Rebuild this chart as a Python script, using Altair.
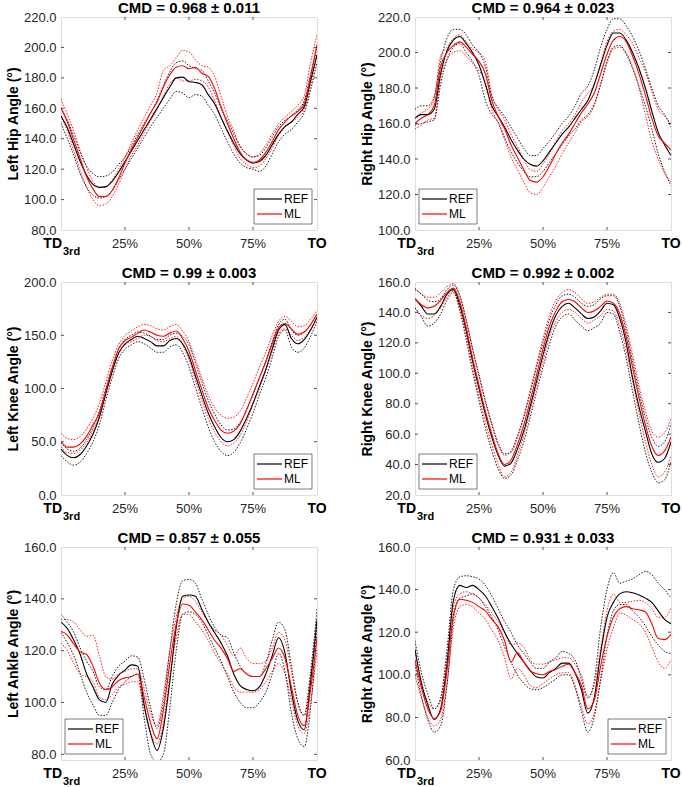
import altair as alt
import pandas as pd

FONT = "Liberation Sans"
AXIS_COLOR = "#262626"

# Gait cycle position (% from third touchdown to toe-off)
x_pct = [i * 2.5 for i in range(41)]
x_ticks = [0, 25, 50, 75, 100]
x_tick_labels = ["TD", "25%", "50%", "75%", "TO"]
x_sub_label = "3rd"

series_names = ["REF", "ML"]
series_colors = ["#000000", "#ff0000"]

# ---------------- Left hip ----------------
left_hip_ref = [155, 147, 136, 125, 116, 110, 108, 108.5, 112, 118, 125, 132, 139, 146, 153, 160, 167, 174, 180, 180.5, 177.5, 177, 175.5, 169, 163, 154, 145, 137, 130, 126, 124, 125, 129, 136, 143, 148, 151, 156, 161, 178, 195]
left_hip_ml = [160, 151, 139, 127, 115, 107, 102, 102, 106, 114, 124, 133, 141, 149, 157, 164, 174, 182, 187, 188, 186, 187, 183, 181, 173, 161, 150, 140, 131, 126, 124.5, 126, 131, 138, 146, 151, 155, 158, 163, 181, 202]
left_hip_ref_hi = [160, 152, 142, 131, 122, 117, 115, 115.5, 118, 123, 128, 135, 143, 150, 157, 165, 175, 184, 190, 191, 188, 186, 185, 178, 170, 160, 152, 143, 135, 130, 128, 129, 134, 141, 148, 152, 155, 159, 165, 182, 200]
left_hip_ref_lo = [150, 140, 129, 117, 108, 103, 101, 102, 106, 113, 120, 127, 134, 141, 148, 154, 160, 166, 171, 170, 167, 169, 168, 162, 156, 147, 138, 130, 124, 121, 120, 118.5, 122, 130, 138, 143, 146, 151, 157, 172, 190]
left_hip_ml_hi = [166, 156, 145, 132, 121, 112, 108, 108, 113, 120, 128, 137, 146, 154, 162, 170, 185, 188, 193, 198, 197, 192, 188, 187, 181, 168, 155, 145, 135, 130, 128, 130, 136, 143, 150, 154, 158, 162, 168, 190, 208]
left_hip_ml_lo = [155, 145, 132, 119, 108, 100, 96, 97, 102, 110, 120, 129, 136, 144, 152, 159, 168, 176, 180, 178, 178, 179, 178, 174, 165, 154, 145, 135, 127, 123, 121, 122, 127, 134, 142, 148, 151, 154, 159, 175, 196]
left_hip_yticks = [80, 100, 120, 140, 160, 180, 200, 220]

# ---------------- Right hip ----------------
right_hip_ref = [163, 165, 165, 168, 188, 201, 207, 209, 205, 200, 193, 182, 170, 164, 158, 151, 145, 140, 137, 136, 139, 144, 149, 154, 158, 163, 168, 173, 182, 193, 204, 211, 211, 207, 200, 191, 180, 167, 155, 148, 142]
right_hip_ml = [160, 163, 165, 170, 192, 200, 204, 206, 203, 199, 195, 188, 173, 164, 157, 148, 141, 134, 128, 127, 130, 136, 143, 149, 154, 160, 166, 171, 177, 188, 199, 207, 209, 206, 198, 188, 176, 163, 153, 149, 145]
right_hip_ref_hi = [168, 170, 170, 175, 195, 208, 213, 213, 210, 204, 200, 192, 175, 169, 164, 158, 152, 146, 142, 142, 146, 150, 155, 160, 164, 170, 177, 181, 190, 203, 213, 219, 219, 215, 209, 201, 191, 180, 170, 165, 158]
right_hip_ref_lo = [159, 160, 161, 162, 182, 196, 203, 205, 200, 195, 187, 173, 165, 161, 152, 144, 138, 133, 130, 130, 133, 138, 143, 148, 153, 157, 162, 165, 171, 182, 195, 203, 204, 199, 191, 181, 170, 157, 143, 133, 125]
right_hip_ml_hi = [163, 166, 168, 174, 198, 203, 208, 210, 206, 202, 200, 195, 176, 168, 162, 154, 147, 140, 134, 133, 137, 143, 150, 156, 160, 165, 172, 177, 182, 194, 206, 212, 213, 210, 205, 197, 189, 178, 168, 164, 160]
right_hip_ml_lo = [157, 159, 162, 163, 186, 196, 200, 201, 198, 194, 190, 183, 168, 160, 151, 141, 134, 127, 121, 120, 124, 130, 136, 143, 149, 155, 161, 164, 170, 182, 194, 202, 203, 200, 192, 180, 165, 150, 140, 132, 127]
right_hip_yticks = [100, 120, 140, 160, 180, 200, 220]

# ---------------- Left knee ----------------
left_knee_ref = [43, 37, 35, 38, 46, 57, 73, 95, 116, 133, 142, 146, 149, 147, 144, 140, 140, 145, 147, 142, 130, 112, 94, 77, 64, 54, 50, 52, 60, 72, 86, 102, 118, 137, 155, 160, 147, 142, 146, 155, 167]
left_knee_ml = [50, 45, 45, 48, 55, 66, 77, 98, 119, 137, 145, 148, 152, 155, 153, 150, 149, 152, 154, 147, 135, 117, 99, 82, 70, 61, 58, 60, 67, 80, 95, 110, 125, 142, 157, 161, 156, 151, 153, 160, 170]
left_knee_ref_hi = [49, 43, 41, 44, 52, 63, 79, 100, 120, 137, 146, 150, 153, 152, 149, 146, 146, 150, 152, 149, 141, 124, 106, 89, 76, 66, 61, 62, 68, 80, 94, 110, 126, 144, 160, 165, 155, 150, 153, 160, 170]
left_knee_ref_lo = [37, 31, 28, 31, 39, 50, 66, 89, 110, 128, 137, 141, 144, 142, 138, 134, 134, 139, 141, 134, 120, 101, 82, 64, 50, 41, 37, 40, 49, 62, 77, 94, 110, 129, 149, 155, 139, 134, 138, 149, 163]
left_knee_ml_hi = [58, 53, 52, 55, 62, 72, 86, 106, 126, 141, 150, 154, 158, 160, 159, 156, 155, 158, 160, 154, 144, 128, 110, 94, 82, 75, 72, 73, 79, 91, 105, 120, 134, 150, 163, 168, 163, 158, 159, 165, 173]
left_knee_ml_lo = [45, 40, 39, 42, 49, 60, 74, 96, 117, 133, 141, 144, 147, 150, 149, 145, 144, 147, 149, 141, 127, 108, 89, 72, 59, 50, 46, 49, 56, 69, 85, 100, 117, 135, 152, 156, 150, 145, 148, 155, 167]
left_knee_yticks = [0, 50, 100, 150, 200]

# ---------------- Right knee ----------------
right_knee_ref = [149, 144, 139, 139, 144, 152, 155, 145, 128, 108, 90, 73, 58, 46, 39, 41, 50, 62, 78, 95, 112, 127, 138, 144, 146, 143, 139, 136, 137, 141, 146, 145, 136, 120, 97, 78, 62, 47, 41.5, 44, 55]
right_knee_ml = [149, 145, 143, 144, 148, 153, 156, 147, 130, 110, 92, 75, 60, 47, 40, 43, 53, 66, 82, 99, 116, 131, 141, 147, 148.5, 147, 143, 140, 141, 144, 147.5, 146, 139, 124, 104, 84, 66, 52, 46, 49, 58]
right_knee_ref_hi = [155, 152, 148, 147, 149, 155, 158, 151, 135, 116, 99, 82, 67, 54, 47, 48, 58, 71, 87, 104, 120, 135, 145, 151, 152, 150, 146, 144, 145, 149, 151, 151, 144, 128, 108, 88, 71, 58, 52, 55, 67]
right_knee_ref_lo = [143, 137, 131, 133, 139, 148, 153, 141, 122, 101, 82, 64, 49, 37, 31, 33, 43, 55, 71, 88, 104, 119, 131, 137, 139, 135, 131, 128, 130, 133, 140, 139, 127, 110, 88, 67, 48, 35, 28, 30, 42]
right_knee_ml_hi = [156, 152, 150, 150, 153, 157, 159, 151, 135, 116, 98, 81, 66, 53, 46, 49, 59, 72, 89, 106, 123, 138, 148, 153, 155, 153, 149, 146, 147, 150, 152, 152, 146, 131, 112, 92, 75, 62, 58, 61, 70]
right_knee_ml_lo = [143, 138, 136, 138, 143, 150, 154, 143, 125, 104, 85, 68, 53, 40, 32, 35, 46, 59, 75, 92, 108, 124, 134, 140, 142, 140, 136, 133, 135, 138, 142, 141, 131, 115, 95, 74, 55, 40, 32, 35, 46]
right_knee_yticks = [20, 40, 60, 80, 100, 120, 140, 160]

# ---------------- Left ankle ----------------
left_ankle_ref = [131, 128.5, 124, 118.5, 111, 106, 101, 100, 107, 110.5, 112.5, 114.5, 114, 99, 88, 81.5, 90, 108, 129, 141, 141.5, 141, 136, 131, 127, 123, 118, 111, 106.5, 105, 104.5, 106, 111, 118, 125, 119, 104, 93, 89.5, 108, 132]
left_ankle_ml = [127.5, 126, 122.5, 119.5, 118.5, 114, 107.5, 105, 106, 108.5, 109.5, 110, 111, 102, 92, 86, 97, 115, 130, 138, 137.5, 135, 132, 128, 124, 121, 117, 112, 113, 111, 110, 110, 113, 117, 121, 117, 106, 95, 91, 105, 125]
left_ankle_ref_hi = [134, 131, 127, 121, 116, 112, 106, 105, 110, 114, 116, 118, 117.5, 109, 98, 90, 100, 120, 138, 147, 147.5, 146, 140, 134, 129, 126, 125, 119, 114, 111, 110, 110, 115, 124, 131, 128, 114, 100, 95, 112, 136]
left_ankle_ref_lo = [127, 123, 118, 111, 104, 99, 95, 95, 100, 105, 108, 110, 111, 94, 80, 77, 80, 98, 120, 134, 135, 134, 131, 126, 121, 116, 110, 104, 100, 98, 98, 100, 104, 111, 119, 112, 96, 86, 83, 98, 128]
left_ankle_ml_hi = [132, 132, 131, 128, 125.5, 126, 118, 110, 109, 111, 112, 113, 113, 105, 96, 91, 103, 120, 133, 140, 141, 139, 135, 131, 128, 126, 122, 118, 121, 117, 115, 115, 116, 121, 127, 124, 112, 100, 95, 110, 130]
left_ankle_ml_lo = [123, 120, 115, 111, 110, 108, 102, 101, 103, 106, 107, 108, 108, 98, 88, 84, 92, 110, 125, 134, 134, 131, 128, 124, 119, 115, 111, 106, 104, 104, 104, 105, 108, 112, 115, 111, 101, 91, 88, 100, 120]
left_ankle_yticks = [80, 100, 120, 140, 160]

# ---------------- Right ankle ----------------
right_ankle_ref = [112, 96, 86, 79, 84, 105, 135, 142, 141, 142, 140, 137, 132, 126.5, 120, 114.5, 110, 106, 102, 99, 98.5, 101, 103, 105.5, 105.5, 101, 93, 82, 89, 110, 127, 134, 138, 139, 138.5, 137.5, 136, 134, 130, 126, 124]
right_ankle_ml = [107, 94, 84, 79.5, 83, 102, 128, 135.5, 135, 134, 132, 130, 126, 122.5, 116, 106, 110.5, 106, 102, 100.5, 100, 101.5, 102.5, 104, 105, 101, 95, 84, 88, 104, 118, 127, 131, 132, 131, 130.5, 129.5, 124, 117, 116.5, 119]
right_ankle_ref_hi = [116, 101, 91, 84, 89, 112, 140, 146, 146.5, 146, 145, 142, 137, 131, 125, 120, 114, 110, 106, 103, 103, 106, 108, 111, 110, 107, 98, 89, 97, 122, 140, 148, 143, 144, 145, 147, 148.5, 147, 143, 140, 136]
right_ankle_ref_lo = [105, 90, 79, 73, 76, 95, 126, 136, 137, 138, 136, 132, 127, 121, 113, 106, 100, 96, 93.5, 93, 94, 96, 98, 100, 100, 94, 83, 73, 80, 98, 118, 130, 133, 133, 130, 127, 123, 118, 114, 111, 110]
right_ankle_ml_hi = [111, 97, 87, 84, 88, 108, 132, 138, 139, 138, 136, 133, 129, 125, 120, 114, 115, 113, 107, 105, 105, 106, 107, 108, 108, 105, 100, 90, 95, 112, 130, 138, 134, 134, 134.5, 135, 134, 131, 127, 127, 131]
right_ankle_ml_lo = [100, 89, 80, 76, 79, 96, 122, 132, 133, 132, 129, 126, 121, 116, 108, 98, 103, 100, 95, 94, 96, 98, 100, 101, 101, 95, 85, 77, 82, 97, 112, 122, 129, 128, 126, 124, 120, 113, 106, 103, 107]
right_ankle_yticks = [60, 80, 100, 120, 140, 160]

W, H = 256, 213
LEG_W, LEG_H = 58, 35


def panel(title, ylabel, ydomain, yticks, corner, ref, ml, ref_hi, ref_lo, ml_hi, ml_lo):
    df = pd.DataFrame({
        "pct": x_pct, "ref": ref, "ml": ml,
        "ref_hi": ref_hi, "ref_lo": ref_lo, "ml_hi": ml_hi, "ml_lo": ml_lo,
    })
    x_scale = alt.Scale(domain=[0, 100], nice=False, zero=False)
    y_scale = alt.Scale(domain=ydomain, nice=False, zero=False)
    y_axis = alt.Axis(
        title=ylabel, values=yticks, format=".1f", grid=False, domain=False,
        ticks=False, tickSize=0, labelPadding=5, labelFont=FONT, labelFontSize=13,
        labelColor=AXIS_COLOR, labelOverlap=False, titleFont=FONT, titleFontSize=14,
        titleFontWeight="bold", titleColor="#000000", titlePadding=3,
        minExtent=38, maxExtent=38,
    )
    xe = alt.X("pct:Q", scale=x_scale, axis=None)
    base = alt.Chart(df)

    def curve(col, color, dotted):
        if dotted:
            mk = base.mark_line(color=color, strokeWidth=0.9, strokeDash=[1.5, 1.5],
                                interpolate="monotone", clip=True)
        else:
            mk = base.mark_line(color=color, strokeWidth=1.1, interpolate="monotone", clip=True)
        return mk.encode(x=xe, y=alt.Y(f"{col}:Q", scale=y_scale, axis=y_axis))

    ref_c, ml_c = series_colors
    layers = [
        curve("ml_hi", ml_c, True), curve("ml_lo", ml_c, True),
        curve("ref_hi", ref_c, True), curve("ref_lo", ref_c, True),
        curve("ref", ref_c, False), curve("ml", ml_c, False),
    ]

    # inward tick marks on all four sides
    yt = pd.DataFrame({"v": [t for t in yticks if ydomain[0] < t < ydomain[1]]})
    ye = alt.Y("v:Q", scale=y_scale, axis=y_axis)
    layers.append(alt.Chart(yt).mark_rule(color=AXIS_COLOR, strokeWidth=0.8)
                  .encode(y=ye, x=alt.value(0), x2=alt.value(3)))
    layers.append(alt.Chart(yt).mark_rule(color=AXIS_COLOR, strokeWidth=0.8)
                  .encode(y=ye, x=alt.value(W - 3), x2=alt.value(W)))
    xt = pd.DataFrame({"v": x_ticks[1:-1]})
    xte = alt.X("v:Q", scale=x_scale, axis=None)
    layers.append(alt.Chart(xt).mark_rule(color=AXIS_COLOR, strokeWidth=0.8)
                  .encode(x=xte, y=alt.value(H - 3), y2=alt.value(H)))
    layers.append(alt.Chart(xt).mark_rule(color=AXIS_COLOR, strokeWidth=0.8)
                  .encode(x=xte, y=alt.value(0), y2=alt.value(3)))

    # x tick labels: percentages plus the TD/TO event markers
    lab = pd.DataFrame({"pct": x_ticks, "label": x_tick_labels})
    le = alt.X("pct:Q", scale=x_scale, axis=None)
    layers.append(alt.Chart(lab.iloc[1:-1]).mark_text(
        font=FONT, fontSize=13, color=AXIS_COLOR, align="center", baseline="alphabetic")
        .encode(x=le, y=alt.value(H + 18), text="label:N"))
    layers.append(alt.Chart(lab.iloc[:1]).mark_text(
        font=FONT, fontSize=14, fontWeight="bold", color="#000000", align="right",
        baseline="alphabetic", dx=1)
        .encode(x=le, y=alt.value(H + 18), text="label:N"))
    layers.append(alt.Chart(pd.DataFrame({"pct": [x_ticks[0]], "label": [x_sub_label]})).mark_text(
        font=FONT, fontSize=11, fontWeight="bold", color="#000000", align="left",
        baseline="alphabetic", dx=2)
        .encode(x=le, y=alt.value(H + 25), text="label:N"))
    layers.append(alt.Chart(lab.iloc[-1:]).mark_text(
        font=FONT, fontSize=14, fontWeight="bold", color="#000000", align="center",
        baseline="alphabetic")
        .encode(x=le, y=alt.value(H + 18), text="label:N"))

    # panel heading above the frame
    layers.append(alt.Chart(pd.DataFrame({"label": [title]})).mark_text(
        font=FONT, fontSize=15, fontWeight="bold", color="#000000", align="center",
        baseline="alphabetic")
        .encode(x=alt.value(W / 2), y=alt.value(-4), text="label:N"))

    # legend box
    bx = W - 5 - LEG_W if corner == "right" else 4
    by = H - 6 - LEG_H
    one = pd.DataFrame({"k": [0]})
    layers.append(alt.Chart(one).mark_rect(fill="white", stroke=AXIS_COLOR, strokeWidth=0.6)
                  .encode(x=alt.value(bx), x2=alt.value(bx + LEG_W),
                          y=alt.value(by), y2=alt.value(by + LEG_H)))
    for i, (name, color) in enumerate(zip(series_names, series_colors)):
        yy = by + 10 + 15 * i
        layers.append(alt.Chart(one).mark_rule(color=color, strokeWidth=1.2)
                      .encode(x=alt.value(bx + 3), x2=alt.value(bx + 28), y=alt.value(yy)))
        layers.append(alt.Chart(pd.DataFrame({"label": [name]})).mark_text(
            font=FONT, fontSize=12, color="#000000", align="left", baseline="middle")
            .encode(x=alt.value(bx + 30), y=alt.value(yy), text="label:N"))

    return alt.layer(*layers).properties(width=W, height=H)


p1 = panel("CMD = 0.968 ± 0.011", "Left Hip Angle (°)", [80, 220], left_hip_yticks, "right",
           left_hip_ref, left_hip_ml, left_hip_ref_hi, left_hip_ref_lo, left_hip_ml_hi, left_hip_ml_lo)
p2 = panel("CMD = 0.964 ± 0.023", "Right Hip Angle (°)", [100, 220], right_hip_yticks, "left",
           right_hip_ref, right_hip_ml, right_hip_ref_hi, right_hip_ref_lo, right_hip_ml_hi, right_hip_ml_lo)
p3 = panel("CMD = 0.99 ± 0.003", "Left Knee Angle (°)", [0, 200], left_knee_yticks, "right",
           left_knee_ref, left_knee_ml, left_knee_ref_hi, left_knee_ref_lo, left_knee_ml_hi, left_knee_ml_lo)
p4 = panel("CMD = 0.992 ± 0.002", "Right Knee Angle (°)", [20, 160], right_knee_yticks, "left",
           right_knee_ref, right_knee_ml, right_knee_ref_hi, right_knee_ref_lo, right_knee_ml_hi, right_knee_ml_lo)
p5 = panel("CMD = 0.857 ± 0.055", "Left Ankle Angle (°)", [77.8, 160], left_ankle_yticks, "left",
           left_ankle_ref, left_ankle_ml, left_ankle_ref_hi, left_ankle_ref_lo, left_ankle_ml_hi, left_ankle_ml_lo)
p6 = panel("CMD = 0.931 ± 0.033", "Right Ankle Angle (°)", [60, 160], right_ankle_yticks, "right",
           right_ankle_ref, right_ankle_ml, right_ankle_ref_hi, right_ankle_ref_lo, right_ankle_ml_hi, right_ankle_ml_lo)

rows = [alt.hconcat(a, b, spacing=31) for a, b in [(p1, p2), (p3, p4), (p5, p6)]]
chart = alt.vconcat(*rows, spacing=7).properties(
    padding={"left": 5, "top": 0, "right": 0, "bottom": 0},
    background="white",
).configure_view(stroke=AXIS_COLOR, strokeWidth=0.7).configure(font=FONT)

chart.save("out.html", embed_options={"renderer": "svg", "actions": False})
